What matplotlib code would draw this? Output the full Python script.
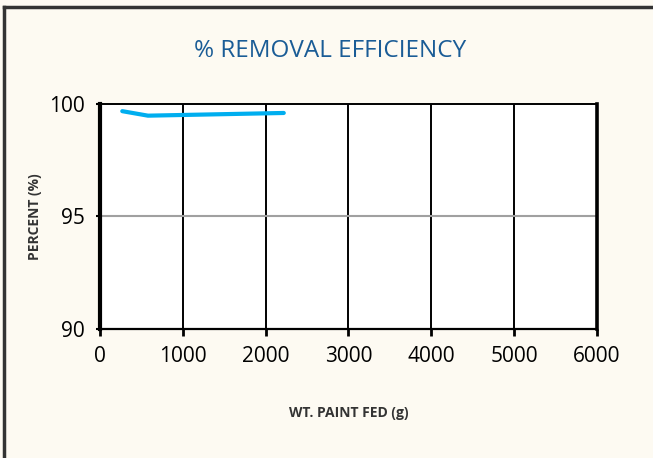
"""Recreate the % removal efficiency chart."""
import matplotlib
matplotlib.use("Agg")
import matplotlib.pyplot as plt
from matplotlib.lines import Line2D

# data
paint_fed = [270, 580, 2220]
efficiency = [99.68, 99.48, 99.6]

x_ticks = [0, 1000, 2000, 3000, 4000, 5000, 6000]
y_ticks = [90, 95, 100]

FONT = ["Open Sans", "DejaVu Sans"]
BG = "#fdfaf2"


def main():
    fig = plt.figure(figsize=(6.53, 4.58), dpi=100, facecolor=BG)
    ax = fig.add_axes([0.153, 0.2817, 0.761, 0.4913])
    ax.set_facecolor("white")

    ax.plot(paint_fed, efficiency, color="#00aeef", lw=3,
            solid_capstyle="round", solid_joinstyle="round", zorder=5)

    ax.set_xlim(0, 6000)
    ax.set_ylim(90, 100)
    ax.set_xticks(x_ticks)
    ax.set_yticks(y_ticks)
    ax.set_xticklabels([str(v) for v in x_ticks], fontsize=15, family=FONT)
    ax.set_yticklabels([str(v) for v in y_ticks], fontsize=15, family=FONT)

    # grid: black verticals, grey horizontal at 95
    for v in x_ticks[1:-1]:
        ax.axvline(v, color="black", lw=1.4, zorder=1)
    ax.axhline(95, color="#a0a0a0", lw=1.5, zorder=1)

    for side, w in (("left", 3.0), ("right", 2.6), ("top", 1.4), ("bottom", 1.6)):
        ax.spines[side].set_linewidth(w)
        ax.spines[side].set_color("black")

    ax.tick_params(axis="x", direction="out", length=5, width=2, pad=7,
                   colors="black")
    ax.tick_params(axis="y", direction="out", length=3, width=1.5, pad=8,
                   colors="black")

    ax.set_xlabel("WT. PAINT FED (g)", fontsize=10, family=FONT,
                  fontweight="bold", color="#333333", labelpad=28)
    ax.set_ylabel("PERCENT (%)", fontsize=10, family=FONT,
                  fontweight="bold", color="#333333", labelpad=5)

    fig.text(0.505, 0.888, "% REMOVAL EFFICIENCY", ha="center", va="center",
             fontsize=17.5, family=FONT, color="#1a5c96")

    # outer frame (left and top edges visible)
    fig.add_artist(Line2D([3.5 / 653, 3.5 / 653], [0, 1 - 7 / 458],
                          transform=fig.transFigure, color="#333333", lw=2.5))
    fig.add_artist(Line2D([3.5 / 653, 1], [1 - 7 / 458, 1 - 7 / 458],
                          transform=fig.transFigure, color="#333333", lw=2.5))

    fig.savefig("out.png", dpi=100, facecolor=BG)


if __name__ == "__main__":
    main()
